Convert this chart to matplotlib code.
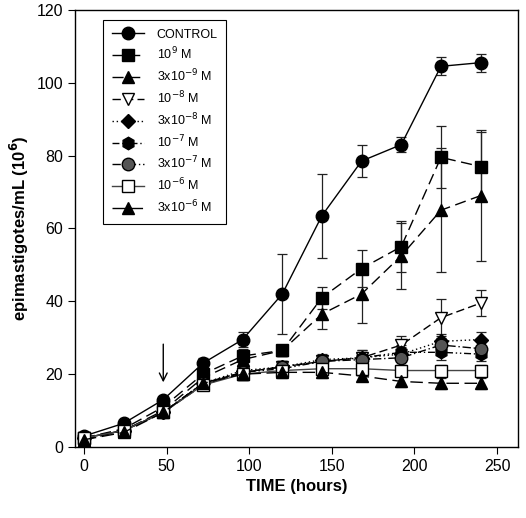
import matplotlib
matplotlib.use("Agg")
import matplotlib.pyplot as plt
from matplotlib.lines import Line2D

plt.rcParams['font.family'] = ['Liberation Sans', 'DejaVu Sans']

hours = [0, 24, 48, 72, 96, 120, 144, 168, 192, 216, 240]

labels = ["CONTROL", "10$^{9}$ M", "3x10$^{-9}$ M", "10$^{-8}$ M", "3x10$^{-8}$ M",
          "10$^{-7}$ M", "3x10$^{-7}$ M", "10$^{-6}$ M", "3x10$^{-6}$ M"]

control = [3, 6.5, 13, 23, 29.5, 42, 63.5, 78.5, 83, 104.5, 105.5]
control_err = [0.8, 0.8, 1, 1.5, 2, 11, 11.5, 4.5, 2, 2.5, 2.5]
m1e9 = [2.5, 5, 11, 20, 25, 26.5, 41, 49, 55, 79.5, 77]
m1e9_err = [0.5, 0.8, 1, 1.5, 2, 1.5, 3, 5, 7, 8.5, 9.5]
m3e9 = [2, 4.5, 10, 19, 24, 26.5, 36.5, 42, 52.5, 65, 69]
m3e9_err = [0.5, 0.8, 1, 1.5, 2, 1.5, 4, 8, 9, 17, 18]
m1e8 = [2.5, 4.5, 9.5, 17, 20.5, 22, 23.5, 24.5, 28, 35.5, 39.5]
m1e8_err = [0.5, 0.5, 1, 1, 1.5, 1.5, 1.5, 2, 2.5, 5, 3.5]
m3e8 = [2.5, 4.5, 9.5, 17.5, 21, 22, 24, 24.5, 25.5, 29, 29.5]
m3e8_err = [0.5, 0.5, 1, 1, 1.5, 1.5, 1.5, 2, 2, 2, 2]
m1e7 = [2.5, 4.5, 9.5, 17.5, 20.5, 21.5, 23.5, 24.5, 26, 26, 25.5]
m1e7_err = [0.5, 0.5, 1, 1, 1.5, 1.5, 1.5, 1.5, 2, 2, 2]
m3e7 = [2.5, 4.5, 9.5, 17.5, 20.5, 22, 23.5, 24, 24.5, 28, 27]
m3e7_err = [0.5, 0.5, 1, 1, 1.5, 1.5, 1.5, 1.5, 2, 2, 2]
m1e6 = [2.5, 4.5, 9.5, 17, 20, 21, 21.5, 21.5, 21, 21, 21]
m1e6_err = [0.5, 0.5, 1, 1, 1.5, 1.5, 1.5, 1.5, 1.5, 1.5, 1.5]
m3e6 = [2, 4, 9.5, 17.5, 20, 20.5, 20.5, 19.5, 18, 17.5, 17.5]
m3e6_err = [0.5, 0.5, 1, 1, 1.5, 1.5, 1.5, 1.5, 1.5, 1.5, 1.5]

series = [control, m1e9, m3e9, m1e8, m3e8, m1e7, m3e7, m1e6, m3e6]
errors = [control_err, m1e9_err, m3e9_err, m1e8_err, m3e8_err, m1e7_err, m3e7_err, m1e6_err, m3e6_err]

styles = [
    dict(marker='o', mfc='black', color='black', ls='-'),
    dict(marker='s', mfc='black', color='black', ls=(0, (8, 4))),
    dict(marker='^', mfc='black', color='black', ls=(0, (8, 4))),
    dict(marker='v', mfc='white', color='black', ls=(0, (6, 3))),
    dict(marker='D', mfc='black', color='black', ls=(0, (1, 2))),
    dict(marker='h', mfc='black', color='black', ls=(0, (5, 2, 1, 2, 1, 2))),
    dict(marker='o', mfc='#555555', color='black', ls=(0, (6, 2, 1, 2))),
    dict(marker='s', mfc='white', color='#444444', ls='-'),
    dict(marker='^', mfc='black', color='black', ls=(0, (9, 4))),
]

fig = plt.figure(figsize=(5.26, 5.18), dpi=100)
ax = fig.add_axes([0.1426, 0.137, 0.8424, 0.844])

handles = []
for y, e, st, lab in zip(series, errors, styles, labels):
    ms = 9 if st['marker'] in ('o', 'h') else 8
    if st['marker'] == 'D':
        ms = 7
    ax.errorbar(hours, y, yerr=e, marker=st['marker'], mfc=st['mfc'], mec='black',
                color=st['color'], ls=st['ls'], lw=1.0, ms=ms, capsize=3.5,
                elinewidth=0.9, ecolor='#222222', capthick=0.9)
    handles.append(Line2D([], [], marker=st['marker'], mfc=st['mfc'], mec='black',
                          color=st['color'], ls=st['ls'], lw=1.0, ms=ms))

ax.annotate('', xy=(48, 17), xytext=(48, 29),
            arrowprops=dict(arrowstyle='->', color='black', lw=1.0, mutation_scale=14))

ax.set_xlim(-5.4, 262.7)
ax.set_ylim(0, 120)
ax.set_xticks([0, 50, 100, 150, 200, 250])
ax.set_yticks([0, 20, 40, 60, 80, 100, 120])
ax.tick_params(direction='out', length=5, width=0.8, labelsize=11.5)
ax.set_xlabel('TIME (hours)', fontsize=12, fontweight='bold')
ax.set_ylabel('epimastigotes/mL (10$^{\\mathbf{6}}$)', fontsize=12, fontweight='bold')
for s in ax.spines.values():
    s.set_linewidth(1.0)

leg = ax.legend(handles=handles, labels=labels, loc='upper left',
                bbox_to_anchor=(0.063, 0.977), borderaxespad=0, fancybox=False,
                edgecolor='black', fontsize=9, handlelength=2.6, labelspacing=0.42,
                handletextpad=1.0, borderpad=0.7, framealpha=1)
leg.get_frame().set_linewidth(0.8)

fig.savefig('out.png', dpi=100)
